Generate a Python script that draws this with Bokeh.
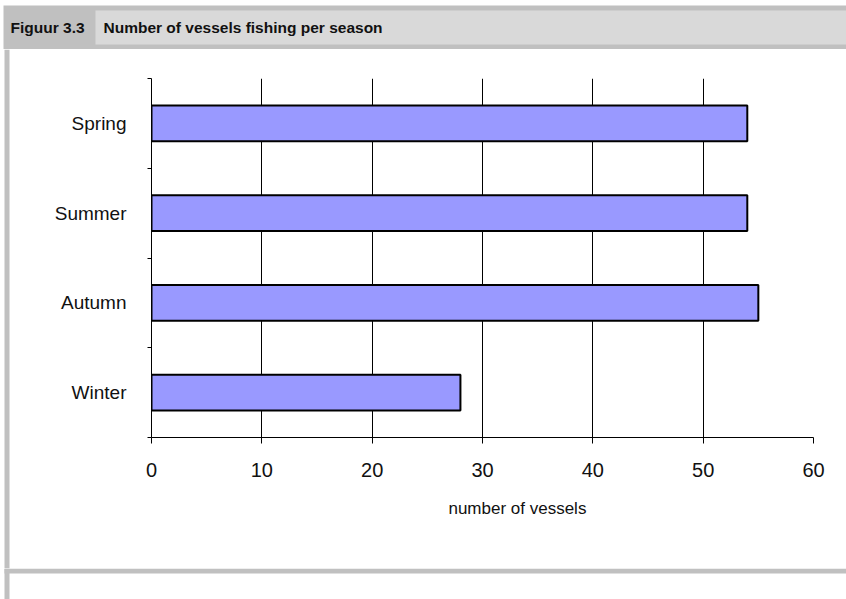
from bokeh.plotting import figure
from bokeh.layouts import column, row
from bokeh.models import Range1d, FixedTicker, ColumnDataSource
from bokeh.core.properties import value
from bokeh.embed import file_html
from bokeh.resources import INLINE

# ---- data ----
seasons = ["Winter", "Autumn", "Summer", "Spring"]
vessels = [28, 55, 54, 54]
x_ticks = [0, 10, 20, 30, 40, 50, 60]
figure_number = "Figuur 3.3"
figure_title = "Number of vessels fishing per season"
x_title = "number of vessels"

FONT = "Liberation Sans"
TXT = "#111111"
FRAME_GREY = "#c0c0c0"
CELL_GREY = "#d9d9d9"
BAR_FILL = "#9999ff"


def deco(w, h):
    """A figure whose frame is its whole canvas, in pixel units (y down)."""
    f = figure(width=w, height=h, output_backend="svg", toolbar_location=None,
               x_range=Range1d(0, w), y_range=Range1d(h, 0),
               x_axis_location=None, y_axis_location=None, min_border=0)
    f.grid.visible = False
    f.outline_line_color = None
    f.background_fill_color = "white"
    f.border_fill_color = "white"
    return f


# ---- header ----
head = deco(846, 49)
head.quad(left=[3], right=[846], top=[5], bottom=[49], fill_color=FRAME_GREY, line_color=None)
head.quad(left=[95], right=[846], top=[10], bottom=[44], fill_color=CELL_GREY, line_color=None)
head.text(x=[10], y=[27], text=[figure_number], text_font=value(FONT),
          text_font_style="bold", text_font_size="15.5px", text_color=TXT,
          text_baseline="middle", text_align="left")
head.text(x=[103], y=[27], text=[figure_title], text_font=value(FONT),
          text_font_style="bold", text_font_size="15.5px", text_color=TXT,
          text_baseline="middle", text_align="left")

# ---- left rule beside the chart ----
side = deco(10, 519)
side.quad(left=[4], right=[9], top=[0], bottom=[519], fill_color=FRAME_GREY, line_color=None)

# ---- main chart ----
n = len(seasons)
centres = [i + 0.5 for i in range(n)]
src = ColumnDataSource(dict(season=seasons, pos=centres, vessels=vessels))

p = figure(width=836, height=441, output_backend="svg", toolbar_location=None,
           x_range=Range1d(x_ticks[0], x_ticks[-1]),
           y_range=Range1d(0, n),
           min_border_left=141, min_border_right=33,
           min_border_top=29, min_border_bottom=53)
p.outline_line_color = None
p.background_fill_color = "white"
p.border_fill_color = "white"

p.hbar(y="pos", left=0, right="vessels", height=0.4, source=src,
       fill_color=BAR_FILL, line_color="black", line_width=2)

p.xaxis.ticker = FixedTicker(ticks=x_ticks)
p.xaxis.axis_line_color = "black"
p.xaxis.major_tick_line_color = "black"
p.xaxis.major_tick_out = 6
p.xaxis.major_tick_in = 0
p.xaxis.minor_tick_line_color = None
p.xaxis.major_label_text_font = FONT
p.xaxis.major_label_text_font_size = "20px"
p.xaxis.major_label_text_color = TXT
p.xaxis.major_label_standoff = 19
p.xgrid.ticker = FixedTicker(ticks=x_ticks)
p.xgrid.grid_line_color = "black"
p.xgrid.grid_line_width = 1
p.ygrid.grid_line_color = None

p.yaxis.ticker = FixedTicker(ticks=centres, minor_ticks=list(range(n + 1)))
p.yaxis.major_label_overrides = {c: s for c, s in zip(centres, seasons)}
p.yaxis.axis_line_color = "black"
p.yaxis.major_tick_line_color = None
p.yaxis.major_tick_out = 0
p.yaxis.major_tick_in = 0
p.yaxis.minor_tick_line_color = "black"
p.yaxis.minor_tick_out = 4
p.yaxis.minor_tick_in = 0
p.yaxis.major_label_text_font = FONT
p.yaxis.major_label_text_font_size = "19px"
p.yaxis.major_label_text_color = TXT
p.yaxis.major_label_standoff = 21

# ---- x-axis title strip ----
cap = deco(836, 78)
cap.text(x=[375], y=[18], text=[x_title], text_font=value(FONT),
         text_font_size="17px", text_color=TXT,
         text_baseline="middle", text_align="left")

# ---- footer rule ----
foot = deco(846, 31)
foot.quad(left=[4], right=[846], top=[0], bottom=[5], fill_color=FRAME_GREY, line_color=None)
foot.quad(left=[4], right=[9], top=[0], bottom=[31], fill_color=FRAME_GREY, line_color=None)

page = column(head, row(side, column(p, cap, spacing=0), spacing=0), foot, spacing=0)

open("out.html", "w").write(file_html(page, INLINE))
